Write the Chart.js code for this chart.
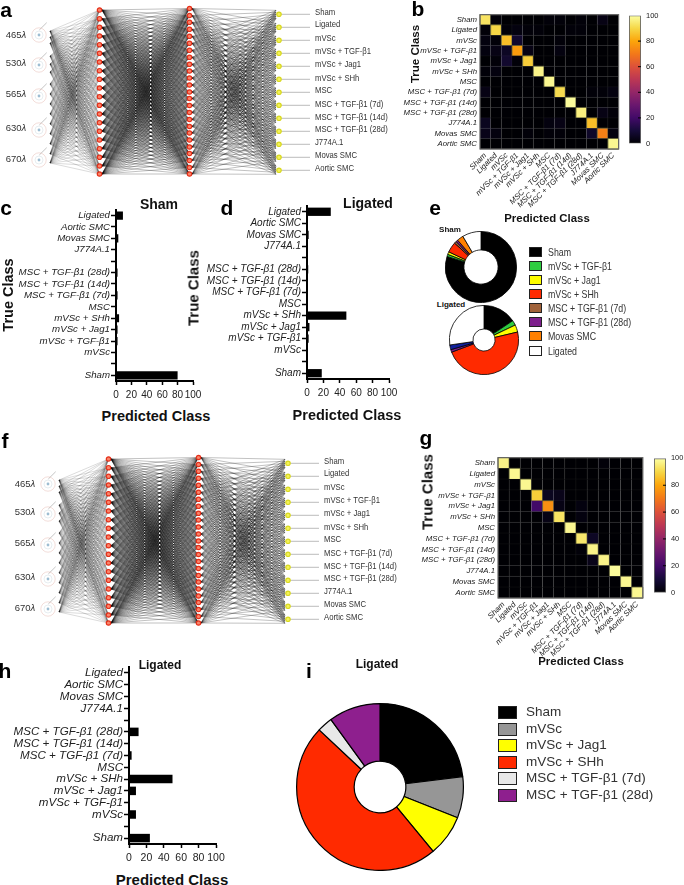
<!DOCTYPE html>
<html>
<head>
<meta charset="utf-8">
<script src="https://cdn.jsdelivr.net/npm/chart.js@4"></script>
<style>
html,body{margin:0;padding:0;background:#fff}
body{position:relative;width:684px;height:885px;overflow:hidden;font-family:"Liberation Sans",Arial,sans-serif;color:#222}
canvas{position:absolute}
.t{position:absolute;white-space:nowrap;line-height:1}
.sw{position:absolute;box-sizing:border-box;border:1.5px solid #222}
</style>
</head>
<body>
<script>

const classes=["Sham","Ligated","mVSc","mVSc + TGF-β1","mVSc + Jag1","mVSc + SHh","MSC","MSC + TGF-β1 (7d)","MSC + TGF-β1 (14d)","MSC + TGF-β1 (28d)","J774A.1","Movas SMC","Aortic SMC"]

const barLabels=["Ligated","Aortic SMC","Movas SMC","J774A.1","","MSC + TGF-β1 (28d)","MSC + TGF-β1 (14d)","MSC + TGF-β1 (7d)","MSC","mVSc + SHh","mVSc + Jag1","mVSc + TGF-β1","mVSc","","Sham"]

const barSham=[9,0.5,3,0.5,0,2,0.5,2,0.5,4,2,2,0.5,0,80]
const barLigated=[29,0.5,2,0.5,0,1.5,0.5,0.5,0.5,48,3,2,0.5,0,18]
const barLigated2=[0.5,0.5,0.5,0.5,0,11,0.5,3,0.5,50,8,0.5,8,0,24]

const xTicks=[0,20,40,60,80,100]

const matrixB=[
[93,1,0,0,0,0,1,1,0,1,0,3,0],
[1,90,1,2,1,1,0,0,1,1,0,0,0],
[2,1,85,8,0,0,0,1,0,0,0,0,0],
[2,3,6,78,3,0,0,2,0,0,0,0,0],
[0,1,8,1,88,0,0,0,0,0,0,0,0],
[1,2,0,0,0,97,0,0,0,0,0,0,0],
[0,0,0,0,0,0,98,0,0,0,0,0,0],
[3,0,0,0,0,0,0,91,0,0,1,1,2],
[0,0,0,0,0,0,0,0,99,0,0,0,0],
[0,0,0,0,0,0,0,0,0,96,0,3,1],
[5,0,0,0,0,0,2,3,0,0,85,0,0],
[4,2,0,0,1,0,1,1,0,0,7,72,2],
[0,0,0,0,0,0,0,0,0,0,0,0,98]
]

const matrixG=[
[97,0,0,0,0,0,0,0,0,1,0,0,0],
[0,98,0,0,0,0,0,0,0,0,0,0,0],
[0,0,98,0,0,0,0,0,0,0,0,0,0],
[0,0,0,88,5,4,0,0,0,0,0,0,0],
[0,0,0,20,75,3,0,2,0,0,0,0,0],
[0,0,0,0,3,93,0,2,0,0,0,0,0],
[0,0,0,0,0,0,98,0,0,0,0,0,0],
[0,0,0,0,0,0,0,94,6,0,0,0,0],
[0,0,0,0,0,0,0,1,97,0,0,0,0],
[0,0,0,0,0,0,0,0,4,97,0,0,0],
[0,0,0,0,0,0,0,0,0,0,99,0,0],
[0,0,0,0,0,0,0,0,0,0,0,98,0],
[0,0,0,0,0,0,0,0,0,0,0,0,98]
]

const infernoStops=["#000004","#160b39","#420a68","#6a176e","#932667","#bc3754","#dd513a","#f37819","#fca50a","#f6d746","#fcffa4"]

const pieShamLabels=["Sham","mVSc + TGF-β1","mVSc + Jag1","mVSc + SHh","MSC + TGF-β1 (7d)","MSC + TGF-β1 (28d)","Movas SMC","Ligated"]
const pieShamValues=[79.8,1,1.2,4.7,1,0.9,2.9,8.5]
const pieShamColors=["#000000","#2ecc40","#ffff00","#ff2a00","#a0623a","#7d1f8c","#ff8000","#ffffff"]

const pieLigValues=[15.6,2.3,3.4,48,1.2,2.2,27.3]
const pieLigColors=["#000000","#2ecc40","#ffff00","#ff2a00","#7d1f8c","#10209a","#ffffff"]

const pieILabels=["Sham","mVSc","mVSc + Jag1","mVSc + SHh","MSC + TGF-β1 (7d)","MSC + TGF-β1 (28d)"]
const pieIValues=[23,8,8,48,3,10]
const pieIColors=["#000000","#969696","#ffff00","#ff2a00","#e8e8e8","#8e1f8e"]

// network layers, y of every node
const inputY=[31,37,43,56,64,72,84,94,104,114,124,134,144,154,163]
const hidden1Y=[10,18.7,27.3,36,44.7,53.3,62,70.7,79.3,88,96.7,105.3,114,122.7,131.3,140,148.7,157.3,166,174]
const hidden2Y=[8.5,15.5,22.3,29.3,36.3,43.3,50.3,57.3,64.3,71,78,85,92,98.5,105.5,112.5,119.5,126.5,133,140,147,153.5,160.5,167.5,174]
const outputY=[14.3,27.3,40.3,53.3,66.3,79.3,92.3,105.3,118.3,131.3,144.3,157.3,170.3]
const outputLabelY=[13.3,25.3,39.3,52.3,65,79,91.3,104.7,118,130.3,143.3,155.7,169.3]
const wavelengths=["465","530","565","630","670"]
const waveY=[35,63,94,128,159]
const iconY=[35,65,96,130,160]

Chart.defaults.font.family='"Liberation Sans", Arial, sans-serif'
Chart.defaults.color="#222"
Chart.defaults.animation=false
Chart.defaults.events=[]
Chart.defaults.plugins.legend.display=false
Chart.defaults.plugins.tooltip.enabled=false


function addCanvas(left,top,w,h){
let c=document.createElement("canvas")
c.width=w
c.height=h
c.style.left=left+"px"
c.style.top=top+"px"
c.style.width=w+"px"
c.style.height=h+"px"
document.body.appendChild(c)
return c
}

function text(str,x,y,size,opts){
opts=opts||{}
let d=document.createElement("div")
d.className="t"
d.innerHTML=str
d.style.left=x+"px"
d.style.top=y+"px"
d.style.fontSize=size+"px"
if(opts.bold) d.style.fontWeight="bold"
if(opts.color) d.style.color=opts.color
let tr=opts.left?"translate(0,-50%)":"translate(-50%,-50%)"
if(opts.rotate) tr+=" rotate(-90deg)"
if(opts.sx){
tr+=" scaleX("+opts.sx+")"
d.style.transformOrigin="left center"
}
d.style.transform=tr
document.body.appendChild(d)
}

function colorFor(v){
let p=Math.min(v,100)/10
let i=Math.min(Math.floor(p),9)
let f=p-i
let a=infernoStops[i],b=infernoStops[i+1]
let out=[1,3,5].map(k=>{
let ca=parseInt(a.substr(k,2),16),cb=parseInt(b.substr(k,2),16)
return Math.round(ca+(cb-ca)*f)
})
return "rgb("+out.join(",")+")"
}


function drawNet(left,top){

let sets=[]

// nodes first, chart.js paints the first dataset on top
sets.push({data:hidden1Y.map(y=>({x:99.5,y:y})),pointRadius:2.2,pointBackgroundColor:"#f9866c",pointBorderColor:"#e5301a",pointBorderWidth:1.2})
sets.push({data:hidden2Y.map(y=>({x:189.5,y:y})),pointRadius:2.2,pointBackgroundColor:"#f9866c",pointBorderColor:"#e5301a",pointBorderWidth:1.2})
sets.push({data:outputY.map(y=>({x:279,y:y})),pointRadius:2.2,pointBackgroundColor:"#f4f25a",pointBorderColor:"#d8d820",pointBorderWidth:1.2})

// wavelength icons
iconY.forEach(y=>{
sets.push({data:[{x:39,y:y}],pointRadius:1.4,pointBackgroundColor:"#9dbdd2",pointBorderWidth:0})
sets.push({data:[{x:39,y:y}],pointRadius:4,pointBackgroundColor:"rgba(0,0,0,0)",pointBorderColor:"#d6e0e5",pointBorderWidth:0.6})
sets.push({data:[{x:39,y:y}],pointRadius:7.2,pointBackgroundColor:"rgba(0,0,0,0)",pointBorderColor:"rgba(225,170,160,0.65)",pointBorderWidth:0.6})
sets.push({data:[{x:39.3,y:y-5},{x:46.7,y:y-12.3}],showLine:true,pointRadius:0,borderColor:"#aaa",borderWidth:0.7})
})

// output leads to the labels
outputY.forEach(y=>{
sets.push({data:[{x:276,y:y},{x:310,y:y}],showLine:true,pointRadius:0,borderColor:"#aaa",borderWidth:0.8})
})

function edges(fromX,fromY,toX,toY,ports,alpha,width){
fromY.forEach((a,i)=>{
toY.forEach(b=>{
let off=ports?ports[i%ports.length]:0
sets.push({data:[{x:fromX,y:a},{x:toX,y:b+off}],showLine:true,pointRadius:0,borderColor:"rgba(0,0,0,"+alpha+")",borderWidth:width})
})
})
}

edges(50,inputY,99.5,hidden1Y,null,0.32,0.45)
edges(102,hidden1Y,189.5,hidden2Y,null,0.45,0.55)
edges(192,hidden2Y,276,outputY,[-4,-2,0,2,4],0.45,0.55)

new Chart(addCanvas(left,top,320,186),{
type:"scatter",
data:{datasets:sets},
options:{
responsive:false,
parsing:false,
normalized:true,
layout:{padding:0,autoPadding:false},
scales:{
x:{display:false,type:"linear",min:0,max:320},
y:{display:false,type:"linear",min:0,max:186,reverse:true}
}
}
})

outputLabelY.forEach((y,i)=>text(classes[i],left+315,top+y,9.2,{left:true,color:"#333",sx:0.84}))
wavelengths.forEach((w,i)=>text(w+"<i>λ</i>",left+16,top+waveY[i],9.5,{color:"#333"}))

}


const areaBorder={
id:"areaBorder",
afterDatasetsDraw(chart){
let a=chart.chartArea
let c=chart.ctx
c.save()
c.strokeStyle="#666"
c.lineWidth=1.2
c.strokeRect(a.left,a.top,a.right-a.left,a.bottom-a.top)
c.restore()
}
}


function drawHeat(matrix,areaLeft,areaTop,size,labelWidth,fontSize){

let pts=[],fills=[],borders=[]

matrix.forEach((row,r)=>{
row.forEach((v,k)=>{
pts.push({x:classes[k],y:classes[r]})
fills.push(colorFor(v))
borders.push(v>50?"#55552f":"rgba(255,255,255,0.05)")
})
})

let below=68

new Chart(addCanvas(areaLeft-labelWidth,areaTop-3,labelWidth+size+3,size+below+3),{
type:"scatter",
data:{datasets:[{
data:pts,
pointStyle:"rect",
pointRadius:size/13/Math.SQRT2,
pointBackgroundColor:fills,
pointBorderColor:borders,
pointBorderWidth:0.8
}]},
options:{
responsive:false,
layout:{padding:{top:3,right:3},autoPadding:false},
scales:{
x:{
type:"category",labels:classes,offset:true,
grid:{display:false,drawTicks:false},border:{display:false},
ticks:{autoSkip:false,minRotation:45,maxRotation:45,padding:2,font:{size:fontSize,style:"italic"}},
afterFit(s){s.height=below}
},
y:{
type:"category",labels:classes,offset:true,
grid:{display:false,drawTicks:false},border:{display:false},
ticks:{autoSkip:false,padding:3,font:{size:fontSize,style:"italic"}},
afterFit(s){s.width=labelWidth}
}
}
},
plugins:[areaBorder]
})

}


function drawColorbar(left,top,w,h,fontSize){

const insideTicks={
id:"insideTicks",
afterDatasetsDraw(chart){
let y=chart.scales.y
let a=chart.chartArea
let c=chart.ctx
c.save()
c.strokeStyle="#000"
c.lineWidth=1
xTicks.slice(1,5).forEach(v=>{
let p=y.getPixelForValue(v)
c.beginPath()
c.moveTo(a.right-3,p)
c.lineTo(a.right,p)
c.stroke()
})
c.restore()
}
}

new Chart(addCanvas(left,top-4,w+22,h+8),{
type:"bar",
data:{labels:[""],datasets:[{
data:[[0,100]],
barPercentage:1,
categoryPercentage:1,
borderColor:"#666",
borderWidth:1.2,
borderSkipped:false,
backgroundColor(ctx){
let a=ctx.chart.chartArea
if(!a) return "#000"
let g=ctx.chart.ctx.createLinearGradient(0,a.bottom,0,a.top)
infernoStops.forEach((s,i)=>g.addColorStop(i/10,s))
return g
}
}]},
options:{
responsive:false,
layout:{padding:{top:4,bottom:4}},
scales:{
x:{display:false},
y:{
position:"right",min:0,max:100,
grid:{display:false,drawTicks:false},border:{display:false},
ticks:{stepSize:20,padding:5,font:{size:fontSize}},
afterFit(s){s.width=22}
}
}
},
plugins:[insideTicks]
})

}


function drawBars(labels,values,axisX,areaTop,areaW,areaH,fontSize,tickSize){

let below=24

new Chart(addCanvas(0,areaTop-3,axisX+areaW+14,areaH+below+3),{
type:"bar",
data:{labels:labels,datasets:[{
data:values,
backgroundColor:"#000",
barPercentage:0.72,
categoryPercentage:1
}]},
options:{
indexAxis:"y",
responsive:false,
layout:{padding:{top:3,right:14}},
scales:{
x:{
type:"linear",min:0,max:100,
afterBuildTicks(s){s.ticks=xTicks.map(v=>({value:v}))},
border:{color:"#000",width:2},
grid:{drawOnChartArea:false,tickColor:"#000",tickWidth:1.5,tickLength:4},
ticks:{autoSkip:false,maxRotation:0,padding:4,color:"#222",font:{size:tickSize}},
afterFit(s){s.height=below}
},
y:{
offset:true,
border:{color:"#000",width:2},
grid:{offset:false,drawOnChartArea:false,tickColor:"#000",tickWidth:1.5,tickLength:5},
ticks:{autoSkip:false,padding:1,color:"#222",font:{size:fontSize,style:"italic"}},
afterFit(s){s.width=axisX}
}
}
}
})

}


function drawPie(values,colors,cx,cy,r,cutout,lineWidth){
let box=Math.ceil(r+1)
new Chart(addCanvas(cx-box,cy-box,box*2,box*2),{
type:"doughnut",
data:{labels:values.map((v,i)=>i),datasets:[{
data:values,
backgroundColor:colors,
borderColor:"#000",
borderWidth:lineWidth
}]},
options:{responsive:false,cutout:cutout,layout:{padding:0}}
})
}


function drawLegend(labels,colors,x,ys,w,h,size,sx){
labels.forEach((l,i)=>{
let s=document.createElement("div")
s.className="sw"
s.style.left=x+"px"
s.style.top=(ys[i]-h/2)+"px"
s.style.width=w+"px"
s.style.height=h+"px"
s.style.background=colors[i]
document.body.appendChild(s)
text(l,x+w+(size>12?9:6),ys[i],size,{left:true,color:"#333",sx:sx})
})
}


// a
drawNet(0,0)
text("a",6,9,21,{bold:true,color:"#000"})

// b
drawHeat(matrixB,480,10,139,100,7.8)
drawColorbar(629,10,12,139,7.5)
text("b",418,8,21,{bold:true,color:"#000"})
text("True Class",416,54,11.5,{bold:true,rotate:true,color:"#111"})

// c
drawBars(barLabels,barSham,116,206,77,175,9.7,10)
text("c",6,207,21,{bold:true,color:"#000"})
text("Sham",159,204,14,{bold:true,color:"#111"})
text("True Class",8,295,14.5,{bold:true,rotate:true,color:"#111"})
text("Predicted Class",156,416,14.5,{bold:true,color:"#111"})

// d
drawBars(barLabels,barLigated,307,202,82,177,10,10)
text("d",227,207,21,{bold:true,color:"#000"})
text("Ligated",368,203,14,{bold:true,color:"#111"})
text("True Class",193,288,15,{bold:true,rotate:true,color:"#111"})
text("Predicted Class",347,415,14.5,{bold:true,color:"#111"})

// e
text("e",435,207,21,{bold:true,color:"#000"})
text("Predicted Class",547,219,11.4,{bold:true,color:"#111"})
text("Sham",450,230,8,{bold:true,color:"#111"})
text("Ligated",451,305,8,{bold:true,color:"#111"})
drawPie(pieShamValues,pieShamColors,481,267,35,"48%",0.8)
drawPie(pieLigValues,pieLigColors,484,340,34,"32%",0.8)
drawLegend(
["Sham","mVSc + TGF-β1","mVSc + Jag1","mVSc + SHh","MSC + TGF-β1 (7d)","MSC + TGF-β1 (28d)","Movas SMC","Ligated"],
["#000000","#2ecc40","#ffff00","#ff2a00","#a0623a","#7d1f8c","#ff8000","#ffffff"],
529,[252,266,280,294,308,322,336,351],13,10,10.5,0.84)

// f
drawNet(9,449)
text("f",5,440,21,{bold:true,color:"#000"})

// g
drawHeat(matrixG,498,453,145,102,7.8)
drawColorbar(654,453,12,145,7.4)
text("g",426,437,21,{bold:true,color:"#000"})
text("True Class",427,492,15,{bold:true,rotate:true,color:"#111"})
text("Predicted Class",581,662,11.4,{bold:true,color:"#111"})

// h
drawBars(barLabels,barLigated2,129,662,87,182,11.6,10.5)
text("h",5,670,21,{bold:true,color:"#000"})
text("Ligated",160,665,12,{bold:true,color:"#111"})
text("Predicted Class",172,879,15,{bold:true,color:"#111"})

// i
text("i",309,670,21,{bold:true,color:"#000"})
text("Ligated",377,664,12,{bold:true,color:"#111"})
drawPie(pieIValues,pieIColors,380,787,83,"31%",1.2)
drawLegend(pieILabels,pieIColors,498,[712,729,745,762,778,795],19,13,13.5)

</script>
</body>
</html>
